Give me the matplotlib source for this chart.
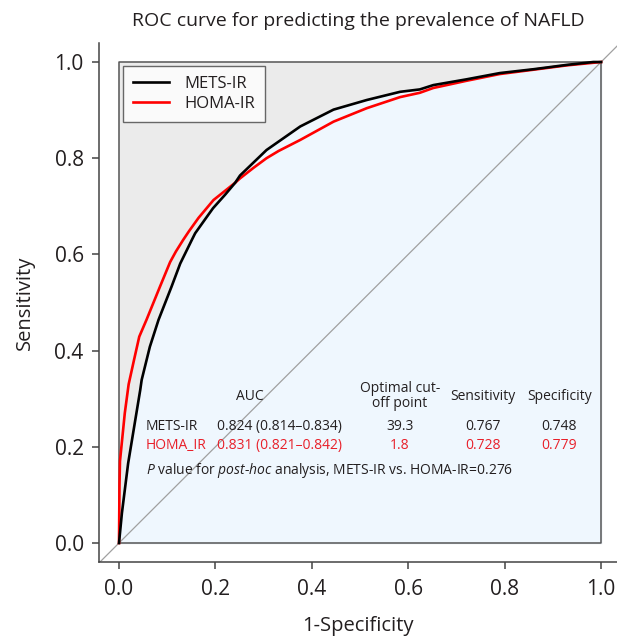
import matplotlib
matplotlib.use("Agg")
import matplotlib.pyplot as plt
import numpy as np

plt.rcParams['font.family'] = ['Open Sans', 'DejaVu Sans']
plt.rcParams['mathtext.fontset'] = 'custom'
plt.rcParams['mathtext.rm'] = 'Open Sans'
plt.rcParams['mathtext.it'] = 'Open Sans:italic'

# ROC points
mets_fpr = [0.0, 0.006, 0.019, 0.044, 0.047, 0.064, 0.082, 0.109, 0.127, 0.151,
            0.158, 0.180, 0.195, 0.220, 0.241, 0.251, 0.306, 0.376, 0.445, 0.514,
            0.583, 0.624, 0.652, 0.721, 0.790, 0.860, 0.929, 0.984, 1.0]
mets_tpr = [0.0, 0.062, 0.166, 0.318, 0.339, 0.408, 0.464, 0.533, 0.581, 0.630,
            0.644, 0.675, 0.696, 0.724, 0.749, 0.764, 0.817, 0.866, 0.901, 0.921,
            0.938, 0.943, 0.952, 0.964, 0.977, 0.985, 0.994, 1.0, 1.0]

homa_fpr = [0.0, 0.001, 0.002, 0.006, 0.012, 0.020, 0.031, 0.042, 0.057, 0.085,
            0.106, 0.118, 0.133, 0.145, 0.165, 0.196, 0.241, 0.251, 0.279,
            0.306, 0.331, 0.376, 0.445, 0.514, 0.583, 0.624, 0.652, 0.721, 0.790,
            0.860, 0.929, 1.0]
homa_tpr = [0.0, 0.12, 0.17, 0.21, 0.270, 0.330, 0.380, 0.429, 0.464, 0.533,
            0.584, 0.606, 0.630, 0.648, 0.676, 0.713, 0.749, 0.758, 0.780,
            0.800, 0.815, 0.838, 0.876, 0.904, 0.927, 0.936, 0.946, 0.961, 0.975,
            0.984, 0.993, 1.0]

labels = ['METS-IR', 'HOMA-IR']
row_names = ['METS-IR', 'HOMA_IR']
auc_text = ['0.824 (0.814\u20130.834)', '0.831 (0.821\u20130.842)']
cutoffs = ['39.3', '1.8']
sens = ['0.767', '0.728']
spec = ['0.748', '0.779']
p_value = '0.276'

dark = '#231f20'
red = '#ff0000'
red_txt = '#e8202a'

fig = plt.figure(figsize=(6.17, 6.36), dpi=100)
ax = fig.add_axes([99 / 617, 74 / 636, 518 / 617, 519 / 636])
ax.set_xlim(-0.0415, 1.033)
ax.set_ylim(-0.0395, 1.0395)

# background box and area under METS-IR curve
ax.fill_between([0, 1], 0, 1, color='#ebebeb', zorder=0)
ax.fill_between(mets_fpr, 0, mets_tpr, color='#eff7fe', zorder=1)
ax.plot([0, 1, 1, 0, 0], [0, 0, 1, 1, 0], color='#555555', lw=1.1, zorder=2)
ax.axline((0, 0), (1, 1), color='#a0a0a0', lw=0.9, zorder=2)

ax.plot(mets_fpr, mets_tpr, color='black', lw=1.9, label=labels[0], zorder=4)
ax.plot(homa_fpr, homa_tpr, color=red, lw=1.9, label=labels[1], zorder=3)

for s in ['top', 'right']:
    ax.spines[s].set_visible(False)
for s in ['left', 'bottom']:
    ax.spines[s].set_color('#444444')
    ax.spines[s].set_linewidth(1.1)

ticks = [0.0, 0.2, 0.4, 0.6, 0.8, 1.0]
ax.set_xticks(ticks)
ax.set_yticks(ticks)
ax.set_xticklabels([f'{t:.1f}' for t in ticks])
ax.set_yticklabels([f'{t:.1f}' for t in ticks])
ax.tick_params(length=5, width=1.1, color='#444444', labelsize=15, labelcolor=dark)
ax.tick_params(axis='x', pad=7)
ax.tick_params(axis='y', pad=6)

ax.set_xlabel('1-Specificity', fontsize=14.5, color=dark, labelpad=12)
ax.set_ylabel('Sensitivity', fontsize=14.5, color=dark, labelpad=14)
ax.set_title('ROC curve for predicting the prevalence of NAFLD', fontsize=14, color=dark, pad=12)

leg = ax.legend(loc='upper left', bbox_to_anchor=(0.046, 0.956), borderaxespad=0,
                fontsize=12, frameon=True, fancybox=False, handlelength=2.2,
                borderpad=0.6, labelspacing=0.25, handletextpad=0.9)
leg.get_frame().set_edgecolor('#444444')
leg.get_frame().set_linewidth(1.0)
for t in leg.get_texts():
    t.set_color(dark)

fs = 10
hy = 0.305
ax.text(0.272, hy, 'AUC', ha='center', va='center', fontsize=fs, color=dark)
ax.text(0.583, hy, 'Optimal cut-\noff point', ha='center', va='center', fontsize=fs,
        color=dark, linespacing=1.0)
ax.text(0.755, hy, 'Sensitivity', ha='center', va='center', fontsize=fs, color=dark)
ax.text(0.913, hy, 'Specificity', ha='center', va='center', fontsize=fs, color=dark)

rows_y = [0.243, 0.202]
colors = [dark, red_txt]
for i in range(2):
    y = rows_y[i]
    c = colors[i]
    ax.text(0.056, y, row_names[i], ha='left', va='center', fontsize=fs, color=c)
    ax.text(0.203, y, auc_text[i], ha='left', va='center', fontsize=fs, color=c)
    ax.text(0.583, y, cutoffs[i], ha='center', va='center', fontsize=fs, color=c)
    ax.text(0.755, y, sens[i], ha='center', va='center', fontsize=fs, color=c)
    ax.text(0.913, y, spec[i], ha='center', va='center', fontsize=fs, color=c)

ax.text(0.056, 0.150,
        r'$\mathit{P}$ value for $\mathit{post}$-$\mathit{hoc}$ analysis, METS-IR vs. HOMA-IR=' + p_value,
        ha='left', va='center', fontsize=fs, color=dark)

fig.savefig('out.png', dpi=100)
